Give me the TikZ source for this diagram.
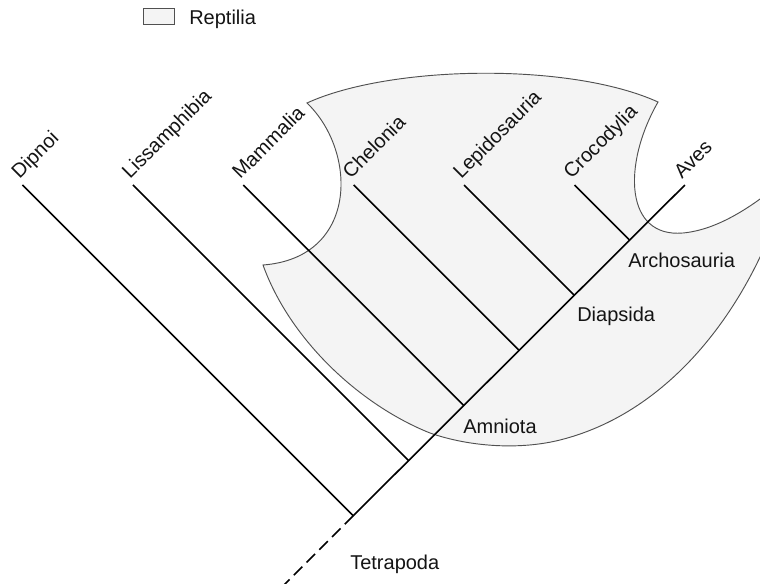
\documentclass[tikz,border=0pt]{standalone}
\usepackage{fontspec}
\setmainfont{Liberation Sans}
\usetikzlibrary{calc}
\definecolor{reptfill}{RGB}{244,244,244}
\definecolor{reptline}{RGB}{80,80,80}
\definecolor{txt}{RGB}{20,20,20}
\begin{document}
\begin{tikzpicture}[x=0.75pt,y=-0.75pt,
  branch/.style={line width=1.2pt, draw=black, line cap=butt},
  lbl/.style={font=\fontsize{15pt}{18pt}\selectfont, text=txt, inner sep=0pt, anchor=base west},
  leaflbl/.style={lbl, rotate=45},
  reptile/.style={fill=reptfill, draw=reptline, line width=0.7pt, line join=miter},
  legendbox/.style={fill=reptfill, draw=reptline, line width=0.8pt, inner sep=0pt,
    minimum width=23.5pt, minimum height=12.5pt}]
\useasboundingbox (0,0) rectangle (760,584);
\clip (0,0) rectangle (760,584);
% Reptilia region
\path[reptile] (307,103) .. controls (390,65) and (570,62) .. (658,102)
  .. controls (622,165) and (625,238) .. (683,233)
  .. controls (715,230) and (750,210) .. (790,175)
  .. controls (760,290) and (680,410) .. (560,440)
  .. controls (520,450) and (470,447) .. (430,433)
  .. controls (360,405) and (290,340) .. (263,265)
  .. controls (358,258) and (358,152) .. (307,103) -- cycle;
% leaf tips
\coordinate (t0) at (22.5,185);
\coordinate (t1) at (132.9,185);
\coordinate (t2) at (243.3,185);
\coordinate (t3) at (353.7,185);
\coordinate (t4) at (464.1,185);
\coordinate (t5) at (574.5,185);
\coordinate (t6) at (684.9,185);
% joints
\coordinate (j0) at (353.25,515.75);
\coordinate (j1) at (408.45,460.55);
\coordinate (j2) at (463.65,405.35);
\coordinate (j3) at (518.85,350.15);
\coordinate (j4) at (574.05,294.95);
\coordinate (j5) at (629.25,239.75);
\coordinate (root) at (280,589);
% branches
\draw[branch] (j0) -- (t6);
\draw[branch, dash pattern=on 9pt off 4.5pt] (j0) -- (root);
\draw[branch] (j0) -- (t0);
\draw[branch] (j1) -- (t1);
\draw[branch] (j2) -- (t2);
\draw[branch] (j3) -- (t3);
\draw[branch] (j4) -- (t4);
\draw[branch] (j5) -- (t5);
% leaf labels
\node[leaflbl] (nDip) at ($(t0)+(-3,-5)$) {Dipnoi};
\node[leaflbl] (nLis) at ($(t1)+(-3,-5)$) {Lissamphibia};
\node[leaflbl] (nMam) at ($(t2)+(-3,-5)$) {Mammalia};
\node[leaflbl] (nChe) at ($(t3)+(-3,-5)$) {Chelonia};
\node[leaflbl] (nLep) at ($(t4)+(-3,-5)$) {Lepidosauria};
\node[leaflbl] (nCro) at ($(t5)+(-3,-5)$) {Crocodylia};
\node[leaflbl] (nAve) at ($(t6)+(-3,-5)$) {Aves};
% clade labels
\node[lbl] (nAmn) at (463,433) {Amniota};
\node[lbl] (nDia) at (577,322) {Diapsida};
\node[lbl] (nArc) at (628,268) {Archosauria};
\node[lbl] (nTet) at (350,569) {Tetrapoda};
% legend
\node[legendbox] (legbox) at (159,16.5) {};
\node[lbl] (legtxt) at (189,25) {Reptilia};
\end{tikzpicture}
\end{document}
